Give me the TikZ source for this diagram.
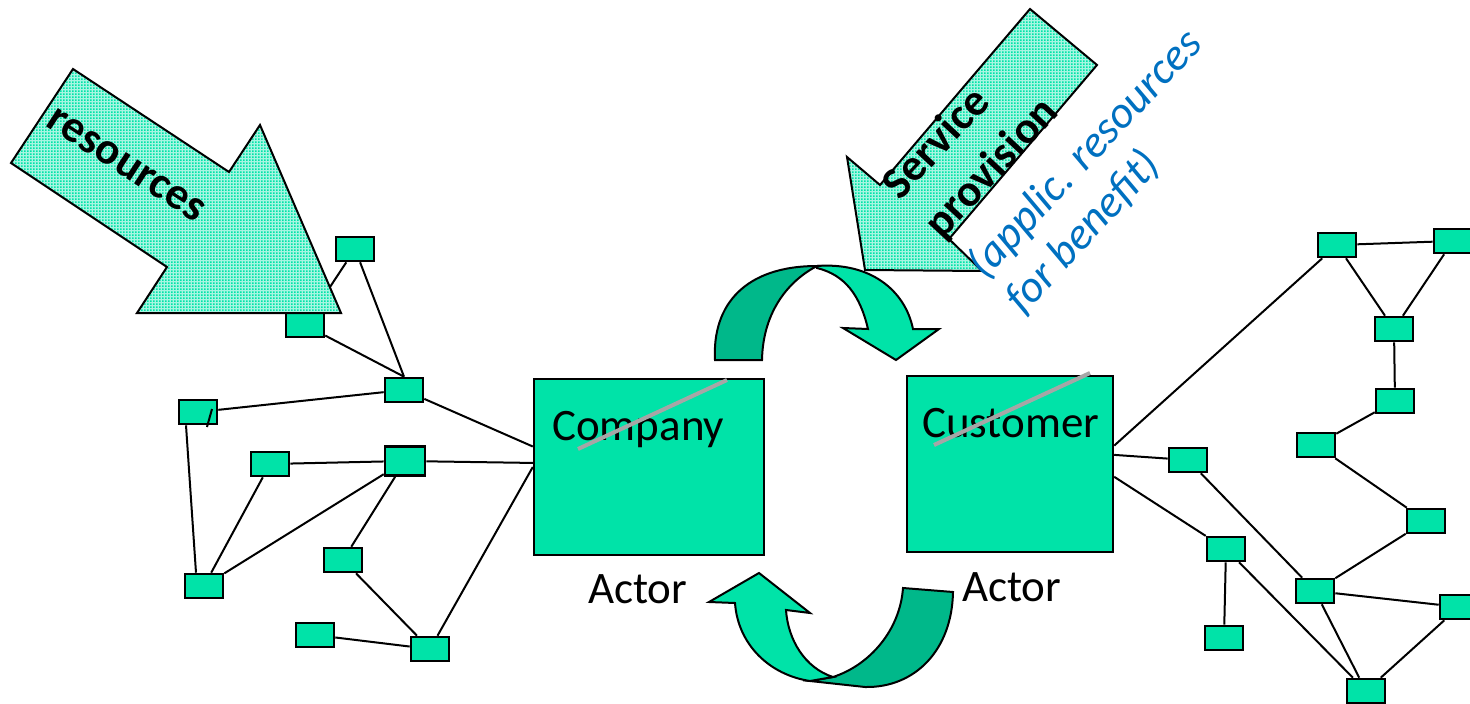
\documentclass[tikz,border=0pt]{standalone}
\usepackage{fontspec}
\setmainfont{Carlito}
\usetikzlibrary{patterns,calc}
\definecolor{mint}{HTML}{00E3A8}
\definecolor{mintdark}{HTML}{00B88A}
\definecolor{bluetxt}{HTML}{0070C0}
\definecolor{strikegray}{HTML}{A6A6A6}
\pgfdeclarepatternformonly{fdots}{\pgfpointorigin}{\pgfpoint{3pt}{3pt}}{\pgfpoint{3pt}{3pt}}{\pgfpathrectangle{\pgfpointorigin}{\pgfpoint{2pt}{2pt}}\pgfusepath{fill}}
\tikzset{
  sbox/.style={draw=black, line width=2.6pt, fill=mint, minimum width=38pt, minimum height=24pt, inner sep=0pt},
  actorbox/.style={draw=black, line width=2.4pt, fill=mint, inner sep=0pt},
  link/.style={line width=2pt, black},
  bigarrow/.style={draw=black, line width=2pt, preaction={fill=mint!35}, pattern=fdots, pattern color=mint},
  ribbon/.style={draw=black, line width=2pt},
  lbl/.style={inner sep=0pt, font=\fontsize{45}{55}\selectfont},
  boldlbl/.style={inner sep=0pt, font=\fontsize{45}{57}\selectfont\bfseries},
  bluelbl/.style={inner sep=0pt, text=bluetxt, font=\fontsize{45}{52}\selectfont\itshape},
  strike/.style={line width=4pt, strikegray}
}
\begin{document}
\begin{tikzpicture}[x=1pt,y=-1pt]
\useasboundingbox (0,0) rectangle (1470,704);
\clip (0,0) rectangle (1470,704);

% actor boxes
\node[actorbox, minimum width=230pt, minimum height=176pt] (company) at (649,467) {};
\node[actorbox, minimum width=206pt, minimum height=176pt] (customer) at (1010,464) {};

% left network nodes
\node[sbox] (n1) at (355,249) {};
\node[sbox] (n2) at (305,325) {};
\node[sbox] (n3) at (404,390) {};
\node[sbox] (n4) at (198,412) {};
\node[sbox] (n5) at (270,464) {};
\node[sbox, minimum width=40pt, minimum height=29pt] (n6) at (405,461) {};
\node[sbox] (n7) at (343,560) {};
\node[sbox] (n8) at (204,586) {};
\node[sbox] (n9) at (315,635) {};
\node[sbox] (n10) at (430,649) {};

% right network nodes
\node[sbox] (r1) at (1337,245) {};
\node[sbox] (r2) at (1453,241) {};
\node[sbox] (r3) at (1394,329) {};
\node[sbox] (r4) at (1395,401) {};
\node[sbox] (r5) at (1316,445) {};
\node[sbox] (r6) at (1188,460) {};
\node[sbox] (r7) at (1426,521) {};
\node[sbox] (r8) at (1226,549) {};
\node[sbox] (r9) at (1315,591) {};
\node[sbox] (r10) at (1459,607) {};
\node[sbox] (r11) at (1224,638) {};
\node[sbox] (r12) at (1366,691) {};

% left edges
\draw[link] (n1) -- (n2);
\draw[link] (n1) -- (n3.north);
\draw[link] (n2) -- (n3.north);
\draw[link] (n3) -- (company.170);
\draw[link] (n3) -- (n4);
\draw[link] ([xshift=-12pt]n4.south) -- ([xshift=-8pt]n8.north);
\draw[link] ($(n4)+(14,-3)$) -- ($(n4)+(9,15)$);
\draw[link] (n5) -- (n6);
\draw[link] (n5) -- (n8);
\draw[link] (n6) -- (n8);
\draw[link] (n6) -- (company.178);
\draw[link] (n6) -- (n7);
\draw[link] (n7) -- (n10);
\draw[link] (n9) -- (n10);
\draw[link] (n10) -- (company.west);

% right edges
\draw[link] (customer.10) -- (r1);
\draw[link] (customer.5) -- (r6);
\draw[link] (customer.-7) -- (r8);
\draw[link] (r1) -- (r2);
\draw[link] (r1) -- (r3);
\draw[link] (r2) -- (r3);
\draw[link] (r3) -- (r4);
\draw[link] (r4) -- (r5);
\draw[link] (r5) -- (r7);
\draw[link] (r7) -- (r9);
\draw[link] (r6) -- (r9);
\draw[link] (r8) -- (r11);
\draw[link] (r8) -- (r12);
\draw[link] (r9) -- (r10);
\draw[link] (r9) -- (r12);
\draw[link] (r10) -- (r12);

% big dotted arrows
\draw[bigarrow] (73,69) -- (229,172) -- (260,125) -- (341,313) -- (137,313) -- (167,267) -- (11,163) -- cycle;
\draw[bigarrow] (1030,9) -- (1097,65) -- (949,239) -- (982,271) -- (865,270) -- (847,157) -- (880,185) -- cycle;

% curved ribbon arrows
\draw[ribbon, fill=mintdark] (715,360) .. controls (712,305) and (745,266) .. (817,266) .. controls (790,280) and (763,310) .. (762,360) -- cycle;
\draw[ribbon, fill=mint] (817,266) .. controls (870,262) and (905,290) .. (913,329) -- (939,329) -- (896,360) -- (843,328) -- (868,329) .. controls (860,295) and (845,275) .. (817,268) -- cycle;
\draw[ribbon, fill=mintdark] (810,681) -- (833,677) .. controls (870,665) and (900,630) .. (903,588) -- (953,592) .. controls (952,650) and (915,688) .. (865,687) -- cycle;
\draw[ribbon, fill=mint] (735,603) -- (709,602) -- (759,573) -- (810,613) -- (786,610) .. controls (788,640) and (805,668) .. (833,677) -- (810,681) .. controls (770,675) and (738,645) .. (735,603) -- cycle;

% texts
\node[lbl, anchor=base west] (companytxt) at (552,440) {Company};
\node[lbl, anchor=base west] (customertxt) at (922,437) {Customer};
\node[lbl, anchor=base west] (actor1) at (588,603) {Actor};
\node[lbl, anchor=base west] (actor2) at (962,601) {Actor};
\draw[strike] (578,449) -- (727,380);
\draw[strike] (934,445) -- (1090,373);

\node[boldlbl, rotate=-33] (restxt) at (126,165) {resources};
\node[boldlbl, rotate=47, align=left, anchor=north west] (servtxt) at (877,180) {Service\\provision};
\node[bluelbl, rotate=47, align=left, anchor=north west] (benefittxt) at (961,258) {(applic. resources\\for benefit)};
\end{tikzpicture}
\end{document}
